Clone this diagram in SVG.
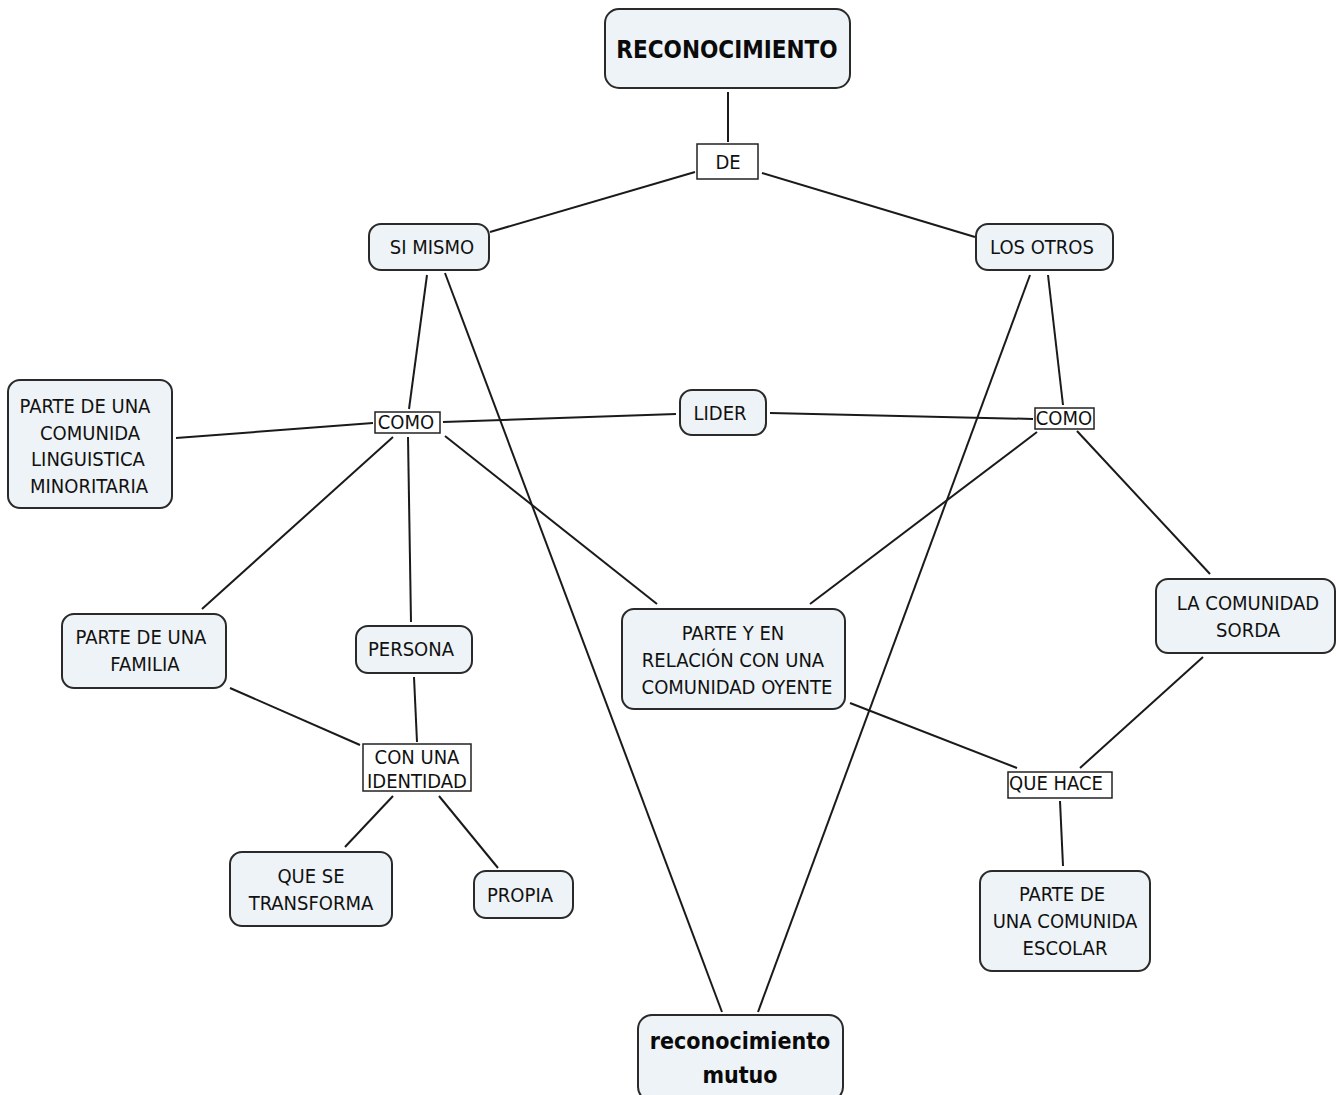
<svg xmlns="http://www.w3.org/2000/svg" width="1336" height="1095" viewBox="0 0 1336 1095">
<style>
.n{fill:#edf3f6;stroke:#2a2a2a;stroke-width:2}
.l{fill:#fff;stroke:#222;stroke-width:1.5}
.t{font-family:"DejaVu Sans Condensed","DejaVu Sans",sans-serif;font-stretch:condensed;font-size:20px;fill:#111;text-anchor:middle;dominant-baseline:central}
.b{font-weight:bold;font-size:24px;fill:#0a0a0a}
.m{font-size:23px}
#connectors line{stroke:#1a1a1a;stroke-width:2}
</style>
<rect width="1336" height="1095" fill="#fff"/>
<g id="connectors">
<line x1="728" y1="92" x2="728" y2="142"/>
<line x1="695" y1="172" x2="490" y2="232"/>
<line x1="762" y1="173" x2="975" y2="237"/>
<line x1="427" y1="275" x2="409" y2="409"/>
<line x1="445" y1="273" x2="722" y2="1012"/>
<line x1="1030" y1="275" x2="758" y2="1012"/>
<line x1="1048" y1="275" x2="1063" y2="405"/>
<line x1="373" y1="423" x2="176" y2="438"/>
<line x1="443" y1="422" x2="676" y2="414"/>
<line x1="770" y1="413" x2="1033" y2="419"/>
<line x1="393" y1="437" x2="202" y2="609"/>
<line x1="408" y1="437" x2="411" y2="622"/>
<line x1="445" y1="436" x2="657" y2="604"/>
<line x1="1037" y1="432" x2="810" y2="604"/>
<line x1="1077" y1="431" x2="1210" y2="574"/>
<line x1="230" y1="688" x2="360" y2="745"/>
<line x1="414" y1="677" x2="417" y2="742"/>
<line x1="393" y1="796" x2="345" y2="847"/>
<line x1="439" y1="796" x2="498" y2="868"/>
<line x1="850" y1="703" x2="1017" y2="768"/>
<line x1="1203" y1="657" x2="1080" y2="768"/>
<line x1="1060" y1="801" x2="1063" y2="866"/>
</g>
<g id="reconocimiento"><rect class="n" x="605" y="9" width="245" height="79" rx="14"/><text class="t b" x="727" y="50">RECONOCIMIENTO</text></g>
<g id="de"><rect class="l" x="697" y="144" width="61" height="35"/><text class="t" x="728" y="162">DE</text></g>
<g id="si-mismo"><rect class="n" x="369" y="224" width="120" height="46" rx="12"/><text class="t" x="432" y="247">SI MISMO</text></g>
<g id="los-otros"><rect class="n" x="976" y="224" width="137" height="46" rx="12"/><text class="t" x="1042" y="247">LOS OTROS</text></g>
<g id="minoritaria"><rect class="n" x="8" y="380" width="164" height="128" rx="12"/><text class="t" x="85" y="406">PARTE DE UNA</text><text class="t" x="90" y="433">COMUNIDA</text><text class="t" x="88" y="459">LINGUISTICA</text><text class="t" x="89" y="486">MINORITARIA</text></g>
<g id="como-1"><rect class="l" x="375" y="412" width="65" height="21"/><text class="t" x="406" y="422">COMO</text></g>
<g id="lider"><rect class="n" x="680" y="390" width="86" height="45" rx="12"/><text class="t" x="720" y="413">LIDER</text></g>
<g id="como-2"><rect class="l" x="1035" y="408" width="59" height="21"/><text class="t" x="1064" y="418">COMO</text></g>
<g id="familia"><rect class="n" x="62" y="614" width="164" height="74" rx="12"/><text class="t" x="141" y="637">PARTE DE UNA</text><text class="t" x="145" y="664">FAMILIA</text></g>
<g id="persona"><rect class="n" x="356" y="626" width="116" height="47" rx="12"/><text class="t" x="411" y="649">PERSONA</text></g>
<g id="identidad"><rect class="l" x="363" y="744" width="108" height="47"/><text class="t" x="417" y="757">CON UNA</text><text class="t" x="417" y="781">IDENTIDAD</text></g>
<g id="transforma"><rect class="n" x="230" y="852" width="162" height="74" rx="12"/><text class="t" x="311" y="876">QUE SE</text><text class="t" x="311" y="903">TRANSFORMA</text></g>
<g id="propia"><rect class="n" x="474" y="871" width="99" height="47" rx="12"/><text class="t" x="520" y="895">PROPIA</text></g>
<g id="oyente"><rect class="n" x="622" y="609" width="223" height="100" rx="12"/><text class="t" x="733" y="633">PARTE Y EN</text><text class="t" x="733" y="660">RELACIÓN CON UNA</text><text class="t" x="737" y="687">COMUNIDAD OYENTE</text></g>
<g id="sorda"><rect class="n" x="1156" y="579" width="179" height="74" rx="12"/><text class="t" x="1248" y="603">LA COMUNIDAD</text><text class="t" x="1248" y="630">SORDA</text></g>
<g id="que-hace"><rect class="l" x="1008" y="772" width="104" height="26"/><text class="t" x="1056" y="783">QUE HACE</text></g>
<g id="escolar"><rect class="n" x="980" y="871" width="170" height="100" rx="12"/><text class="t" x="1062" y="894">PARTE DE</text><text class="t" x="1065" y="921">UNA COMUNIDA</text><text class="t" x="1065" y="948">ESCOLAR</text></g>
<g id="mutuo"><rect class="n" x="638" y="1015" width="205" height="86" rx="14"/><text class="t b m" x="740" y="1041">reconocimiento</text><text class="t b m" x="740" y="1075">mutuo</text></g>
</svg>
